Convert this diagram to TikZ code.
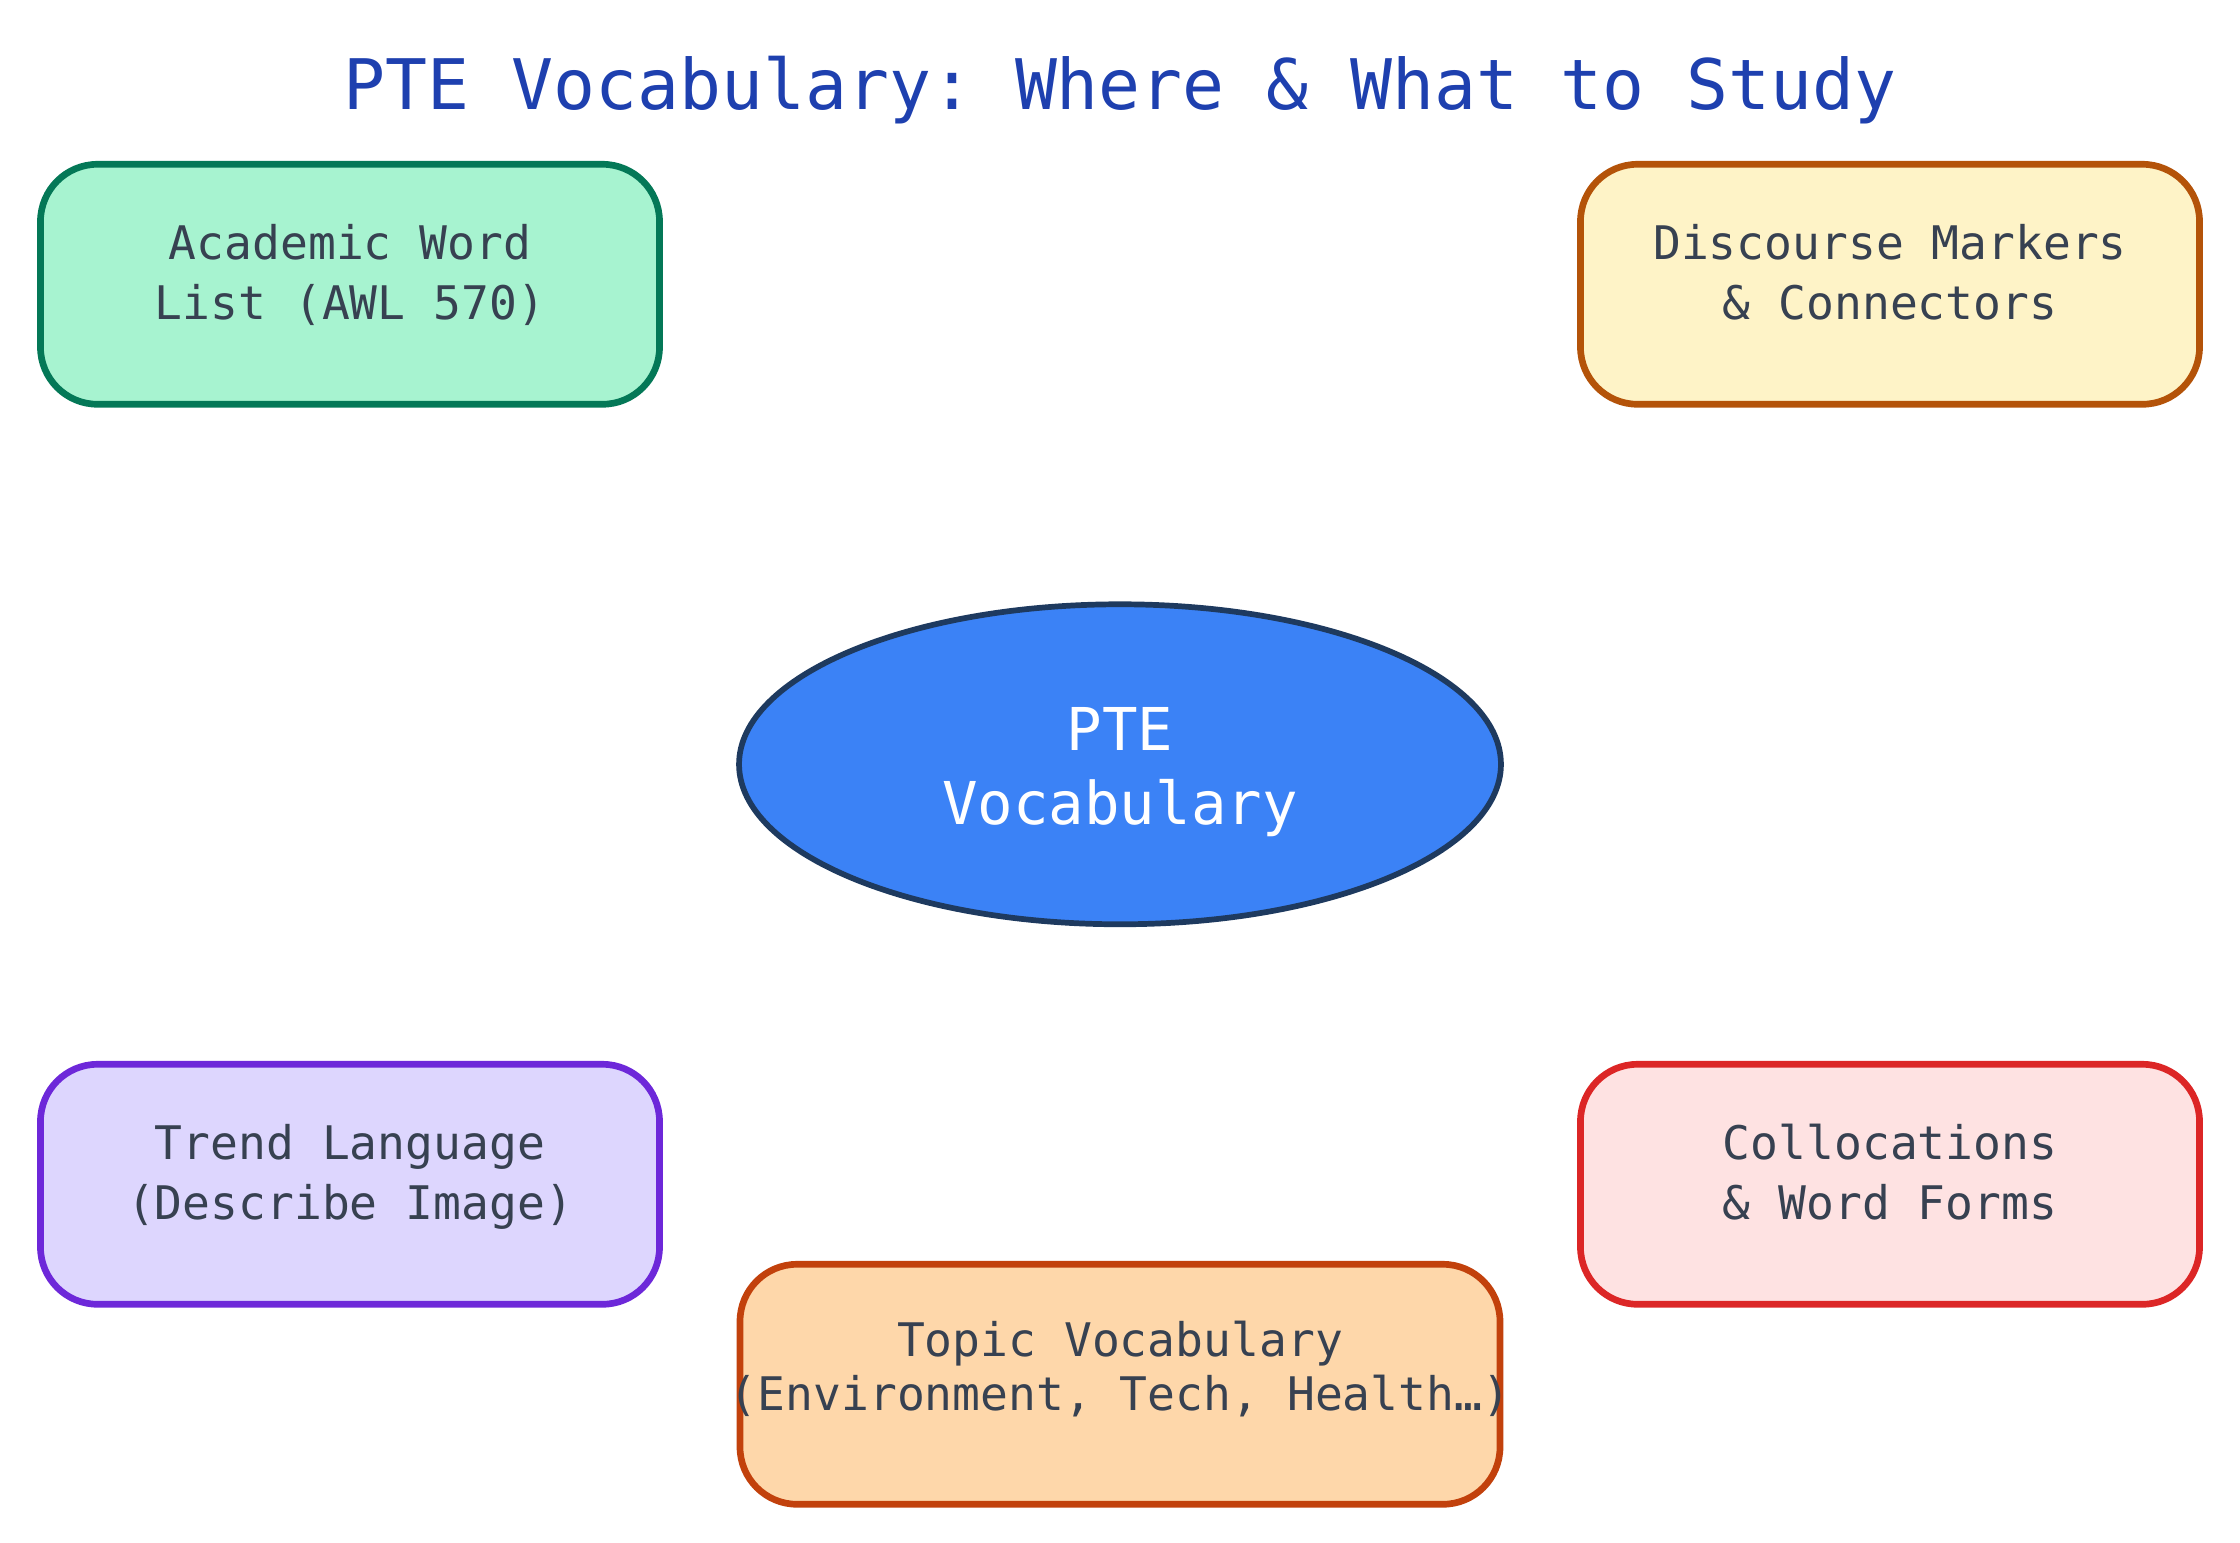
\documentclass[tikz,border=0pt]{standalone}
\usepackage{fontspec}
\setmonofont{DejaVu Sans Mono}
\usetikzlibrary{shapes.geometric}
\definecolor{titleblue}{HTML}{1E40AF}
\definecolor{txt}{HTML}{374151}
\definecolor{awlfill}{HTML}{A7F3D0}\definecolor{awldraw}{HTML}{047857}
\definecolor{dmfill}{HTML}{FEF3C7}\definecolor{dmdraw}{HTML}{B45309}
\definecolor{trfill}{HTML}{DDD6FE}\definecolor{trdraw}{HTML}{6D28D9}
\definecolor{cofill}{HTML}{FEE2E2}\definecolor{codraw}{HTML}{DC2626}
\definecolor{tpfill}{HTML}{FED7AA}\definecolor{tpdraw}{HTML}{C2410C}
\definecolor{cfill}{HTML}{3B82F6}\definecolor{cdraw}{HTML}{1E3A5F}
% #1 extra height (moves text down), #2 extra depth (moves text up)
\newcommand\mklines[4]{\raisebox{0pt}[\dimexpr\height+#1\relax][\dimexpr\depth+#2\relax]{\begin{tabular}{@{}c@{}}#3\\#4\end{tabular}}}
\begin{document}
\begin{tikzpicture}[x=0.75pt,y=-0.75pt,
  catbox/.style={rectangle, rounded corners=30pt, line width=3.5pt, minimum width=325pt, minimum height=126pt,
    align=center, text=txt, font=\ttfamily\fontsize{24.3}{31.5}\selectfont, inner sep=0pt},
  centerell/.style={ellipse, line width=3pt, fill=cfill, draw=cdraw, minimum width=400pt, minimum height=168pt,
    align=center, text=white, font=\ttfamily\fontsize{31}{39}\selectfont, inner sep=0pt},
  titletext/.style={text=titleblue, font=\ttfamily\fontsize{36.6}{44}\selectfont}]
\useasboundingbox (0,0) rectangle (1568,1080);
\node[titletext] (title) at (784,63) {PTE Vocabulary: Where \& What to Study};
\node[centerell] (center) at (784,535) {\mklines{9pt}{0pt}{PTE}{Vocabulary}};
\node[catbox, fill=awlfill, draw=awldraw] (awl) at (245,199) {\mklines{0pt}{7.5pt}{Academic Word}{List (AWL 570)}};
\node[catbox, fill=dmfill, draw=dmdraw] (dm) at (1323,199) {\mklines{0pt}{7.5pt}{Discourse Markers}{\& Connectors}};
\node[catbox, fill=trfill, draw=trdraw] (trend) at (245,829) {\mklines{0pt}{7.5pt}{Trend Language}{(Describe Image)}};
\node[catbox, fill=cofill, draw=codraw] (coll) at (1323,829) {\mklines{0pt}{7.5pt}{Collocations}{\& Word Forms}};
\node[catbox, fill=tpfill, draw=tpdraw, minimum width=399pt, font=\ttfamily\fontsize{24.3}{28.5}\selectfont] (topic) at (784,969)
  {\mklines{0pt}{12pt}{Topic Vocabulary}{\makebox[0pt]{(Environment, Tech, Health…)}}};
\end{tikzpicture}
\end{document}
